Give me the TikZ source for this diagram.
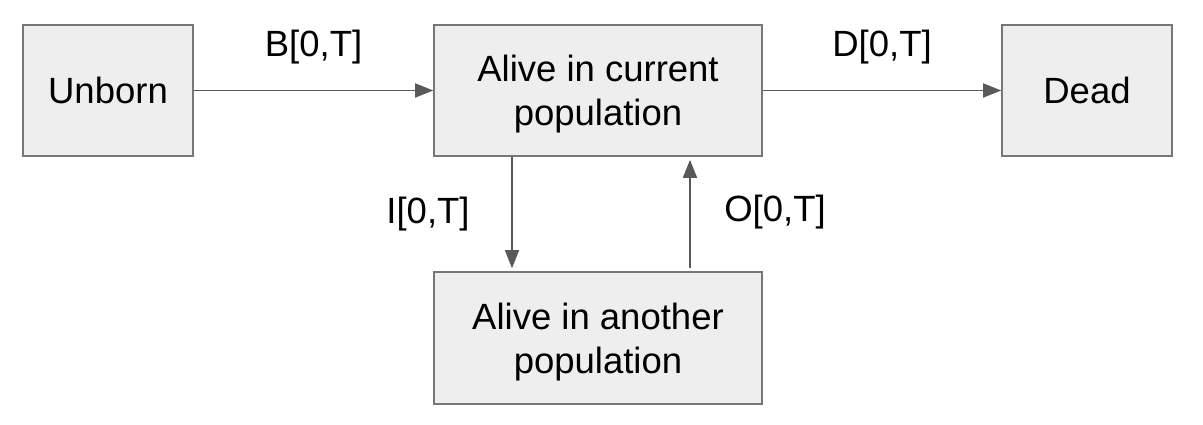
\documentclass[tikz,border=0pt]{standalone}
\usepackage{fontspec}
\setmainfont{Liberation Sans}
\usetikzlibrary{arrows.meta}
\definecolor{boxfill}{HTML}{EEEEEE}
\definecolor{boxline}{HTML}{777777}
\definecolor{arrowline}{HTML}{595959}
\newcommand{\twolines}[3]{\raisebox{#1}[\height][\depth]{\begin{tabular}{@{}c@{}}#2\\#3\end{tabular}}}
\tikzset{
  statebox/.style={draw=boxline,fill=boxfill,line width=1.6pt,inner sep=0pt,
    minimum height=131pt,align=center,font=\fontsize{36.5}{44}\selectfont},
  flow/.style={draw=arrowline,line width=1.6pt,-{Triangle[length=18pt,width=14pt]}},
  rate/.style={font=\fontsize{36.5}{44}\selectfont,inner sep=0pt}
}

\begin{document}
\begin{tikzpicture}[x=1pt,y=-1pt]
        \useasboundingbox (0,0) rectangle (1203,425);
        \node[statebox,minimum width=170pt] (unborn) at (108,90.5) {Unborn};
        \node[statebox,minimum width=328pt] (current) at (598,90.5) {\twolines{-4pt}{Alive in current}{population}};
        \node[statebox,minimum width=170pt] (dead) at (1087,90.5) {Dead};
        \node[statebox,minimum width=328pt,minimum height=132pt] (other) at (598,338) {\twolines{-5pt}{Alive in another}{population}};
        \draw[flow] (unborn) -- node[rate,yshift=43pt]{B[0,T]} (current);
        \draw[flow] (current) -- node[rate,yshift=43pt]{D[0,T]} (dead);
        \draw[flow] ([xshift=-86pt]current.south) -- node[rate,xshift=-84pt,yshift=-2pt]{I[0,T]} ([xshift=-86pt,yshift=3pt]other.north);
        \draw[flow] ([xshift=92pt,yshift=3pt]other.north) -- node[rate,xshift=85pt,yshift=2pt]{O[0,T]} ([xshift=92pt,yshift=-3pt]current.south);
    \end{tikzpicture}
\end{document}
